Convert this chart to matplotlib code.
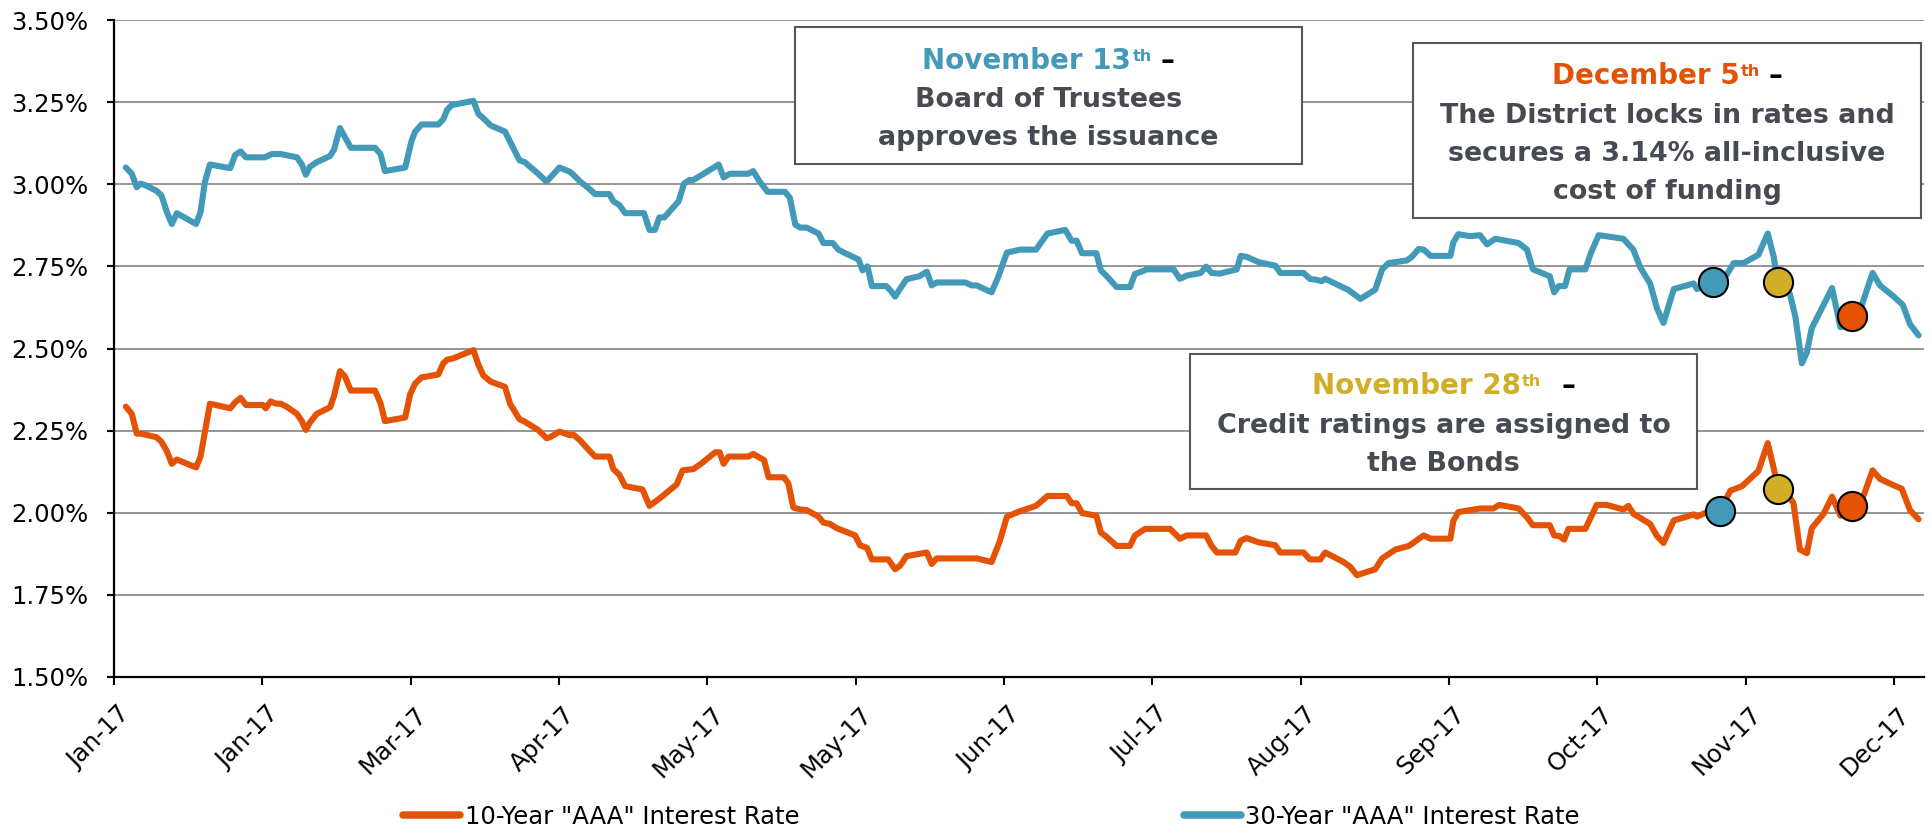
import matplotlib
matplotlib.use("Agg")
import matplotlib.pyplot as plt
import matplotlib.transforms as mtransforms
from matplotlib.patches import Rectangle
from matplotlib.lines import Line2D

# ---------------- data (day offset from 1 Jan 2017, rate in %) ----------------
days_30yr = [
    2.4, 3.6, 4.6, 5.4, 6.6, 8.6, 9.6, 10.7, 11.7, 12.7, 16.6, 17.5, 18.4, 19.4, 23.5,
    24.5, 25.6, 26.7, 30.5, 31.9, 33.7, 37.0, 38.0, 38.8, 39.6, 41.0, 43.7, 44.5, 45.7, 47.9,
    52.8, 53.9, 54.8, 58.9, 60.2, 60.9, 62.2, 65.6, 66.6, 67.4, 68.3, 72.7, 73.7, 74.7, 76.2,
    79.1, 82.0, 83.1, 85.8, 87.5, 90.1, 92.2,
    92.9, 94.3, 96.0, 97.3, 100.2, 101.0, 102.2, 103.4, 107.2, 108.3, 109.4, 110.3, 111.3, 114.2, 115.3,
    116.4, 117.2, 122.3, 123.3, 124.6, 128.3, 129.3, 130.5, 132.2, 135.7, 136.7, 137.8, 138.8, 140.1, 142.5,
    143.5, 145.4, 146.5, 147.9, 150.6, 151.4, 152.4, 153.3, 156.2, 157.1, 158.0, 159.0, 160.3, 162.9, 164.4,
    165.4, 166.4, 172.2, 173.5, 174.5, 177.5, 178.9, 180.6, 183.3,
    184.6, 186.5, 188.8, 192.4, 193.7, 194.7, 195.8, 198.7, 199.6, 200.8, 202.8, 205.5, 206.5, 208.2, 208.9,
    214.3, 215.6, 217.0, 219.8, 220.9, 222.0, 223.7, 227.1, 227.9, 229.1, 231.5, 234.9, 235.9, 240.6, 241.9,
    243.2, 244.3, 245.0, 249.7, 252.1, 255.1, 256.5, 257.8, 261.5, 262.5, 263.9, 264.9, 266.3, 270.3, 270.9,
    271.9, 274.3,
    276.3, 277.7, 279.4, 284.1, 285.8, 287.0, 290.4, 291.3, 292.2, 293.5, 294.4, 297.6, 298.7, 300.3, 305.3,
    307.3, 308.7, 310.7, 312.1, 313.4, 315.5, 318.1, 319.5, 320.2, 323.5, 326.2, 327.6, 329.6, 332.6, 334.5,
    335.7, 336.3, 339.0, 340.1, 341.4, 342.4, 343.4, 347.5, 349.2, 350.5, 353.2, 355.7, 357.2, 359.9, 361.8,
    363.3, 365.0,
]
rate_30yr = [
    3.051, 3.032, 2.991, 3.002, 2.995, 2.980, 2.966, 2.915, 2.879, 2.912, 2.879, 2.915, 3.008, 3.060, 3.049,
    3.089, 3.100, 3.082, 3.082, 3.092, 3.092, 3.082, 3.060, 3.029, 3.053, 3.067, 3.086, 3.105, 3.171, 3.111,
    3.111, 3.092, 3.040, 3.051, 3.133, 3.160, 3.182, 3.182, 3.198, 3.227, 3.241, 3.254, 3.214, 3.201, 3.179,
    3.160, 3.073, 3.067, 3.032, 3.008, 3.051, 3.038,
    3.029, 3.008, 2.988, 2.970, 2.970, 2.948, 2.937, 2.912, 2.912, 2.861, 2.861, 2.899, 2.899, 2.948, 3.002,
    3.013, 3.013, 3.060, 3.021, 3.032, 3.032, 3.040, 3.010, 2.977, 2.977, 2.959, 2.877, 2.868, 2.868, 2.850,
    2.821, 2.821, 2.801, 2.790, 2.771, 2.738, 2.750, 2.690, 2.690, 2.676, 2.658, 2.682, 2.711, 2.720, 2.734,
    2.692, 2.701, 2.701, 2.692, 2.692, 2.671, 2.720, 2.792, 2.801,
    2.801, 2.801, 2.850, 2.861, 2.828, 2.828, 2.790, 2.790, 2.738, 2.720, 2.687, 2.687, 2.727, 2.736, 2.741,
    2.741, 2.712, 2.722, 2.730, 2.749, 2.730, 2.728, 2.741, 2.782, 2.779, 2.763, 2.752, 2.730, 2.730, 2.712,
    2.709, 2.705, 2.712, 2.678, 2.651, 2.679, 2.741, 2.760, 2.768, 2.779, 2.803, 2.801, 2.782, 2.782, 2.823,
    2.848, 2.842,
    2.845, 2.817, 2.834, 2.821, 2.801, 2.741, 2.720, 2.671, 2.690, 2.690, 2.741, 2.741, 2.790, 2.845, 2.834,
    2.801, 2.747, 2.698, 2.622, 2.578, 2.681, 2.692, 2.698, 2.681, 2.701, 2.725, 2.760, 2.760, 2.785, 2.850,
    2.779, 2.720, 2.665, 2.595, 2.455, 2.488, 2.562, 2.684, 2.565, 2.569, 2.618, 2.730, 2.692, 2.659, 2.633,
    2.573, 2.540,
]

days_10yr = [
    2.4, 3.6, 4.6, 5.4, 8.6, 9.6, 10.7, 11.7, 12.7, 16.6, 17.5, 18.4, 19.4, 23.5, 24.5,
    25.6, 26.7, 30.1, 30.7, 31.7, 32.8, 33.7, 34.9, 37.0, 38.0, 38.8, 39.6, 41.0, 43.7, 44.5,
    45.7, 46.7, 47.9, 52.8, 53.9, 54.8, 58.9, 59.9, 60.9, 62.2, 65.6, 66.6, 67.4, 68.6, 72.7,
    73.7, 74.7, 76.2, 79.1, 80.1, 82.0, 83.1, 85.8, 87.5, 88.2, 90.1, 92.2,
    92.9, 94.3, 95.6, 97.3, 100.2, 101.0, 102.2, 103.4, 106.9, 108.3, 109.6, 110.8, 113.8, 115.0, 117.2,
    118.9, 121.6, 122.5, 123.3, 124.3, 128.3, 129.3, 131.5, 132.4, 135.5, 136.4, 137.4, 138.8, 140.1, 142.5,
    143.5, 144.8, 146.2, 149.9, 150.9, 152.3, 153.3, 156.6, 158.0, 159.0, 160.3, 164.4, 165.4, 166.4, 174.5,
    177.5, 179.2, 180.6, 183.3,
    186.5, 188.8, 192.7, 193.7, 194.7, 195.8, 198.7, 199.6, 200.8, 202.8, 205.5, 206.5, 208.6, 213.6, 215.6,
    217.0, 220.9, 222.0, 223.1, 226.8, 227.9, 229.1, 231.5, 234.9, 235.9, 240.6, 241.9, 244.0, 245.0, 248.7,
    250.0, 251.4, 255.1, 256.5, 259.2, 261.9, 264.9, 266.3, 270.3, 270.9, 271.9, 274.3,
    276.3, 279.0, 280.2, 284.1, 285.8, 287.0, 290.4, 291.3, 292.4, 293.3, 294.2, 297.6, 298.7, 299.9, 301.9,
    305.3, 306.3, 307.3, 310.7, 312.1, 313.4, 315.5, 318.1, 319.5, 320.2, 322.2, 324.9, 326.9, 329.3, 332.6,
    334.5, 336.0, 339.7, 341.0, 342.4, 343.4, 345.8, 347.5, 349.2, 351.5, 353.6, 355.7, 357.2, 359.9, 361.6,
    363.3, 365.0,
]
rate_10yr = [
    2.323, 2.301, 2.241, 2.241, 2.230, 2.216, 2.187, 2.149, 2.162, 2.138, 2.171, 2.247, 2.332, 2.318, 2.336,
    2.350, 2.328, 2.328, 2.318, 2.339, 2.332, 2.332, 2.323, 2.301, 2.279, 2.252, 2.274, 2.301, 2.321, 2.355,
    2.431, 2.415, 2.372, 2.372, 2.334, 2.279, 2.290, 2.361, 2.393, 2.412, 2.421, 2.455, 2.466, 2.470, 2.495,
    2.451, 2.418, 2.399, 2.383, 2.332, 2.285, 2.277, 2.252, 2.227, 2.230, 2.247, 2.236,
    2.238, 2.220, 2.198, 2.171, 2.171, 2.133, 2.116, 2.081, 2.071, 2.021, 2.035, 2.049, 2.086, 2.129, 2.133,
    2.151, 2.184, 2.184, 2.149, 2.171, 2.171, 2.179, 2.160, 2.108, 2.108, 2.089, 2.016, 2.010, 2.008, 1.988,
    1.970, 1.966, 1.953, 1.931, 1.901, 1.893, 1.858, 1.858, 1.828, 1.839, 1.868, 1.879, 1.844, 1.861, 1.861,
    1.850, 1.915, 1.988, 2.005,
    2.021, 2.051, 2.051, 2.029, 2.029, 1.999, 1.991, 1.940, 1.926, 1.899, 1.899, 1.931, 1.951, 1.951, 1.921,
    1.931, 1.931, 1.899, 1.879, 1.879, 1.915, 1.923, 1.910, 1.901, 1.879, 1.879, 1.858, 1.858, 1.879, 1.850,
    1.836, 1.810, 1.828, 1.861, 1.888, 1.899, 1.931, 1.921, 1.921, 1.975, 2.002, 2.008,
    2.013, 2.013, 2.024, 2.013, 1.986, 1.962, 1.962, 1.931, 1.929, 1.918, 1.951, 1.951, 1.986, 2.024, 2.024,
    2.010, 2.021, 1.997, 1.966, 1.929, 1.908, 1.977, 1.988, 1.995, 1.988, 2.002, 2.005, 2.067, 2.081, 2.127,
    2.212, 2.116, 2.029, 1.888, 1.877, 1.953, 1.997, 2.049, 1.991, 2.018, 2.040, 2.129, 2.103, 2.084, 2.073,
    2.007, 1.980,
]

event_days_30yr = [323.5, 336.6, 351.5]
event_rate_30yr = [2.702, 2.702, 2.598]
event_days_10yr = [324.9, 336.6, 351.5]
event_rate_10yr = [2.005, 2.073, 2.021]

xtick_days = [0, 30, 60, 90, 120, 150, 180, 210, 240, 270, 300, 330, 360]
xtick_labels = ["Jan-17", "Jan-17", "Mar-17", "Apr-17", "May-17", "May-17", "Jun-17",
                "Jul-17", "Aug-17", "Sep-17", "Oct-17", "Nov-17", "Dec-17"]
ytick_values = [1.50, 1.75, 2.00, 2.25, 2.50, 2.75, 3.00, 3.25, 3.50]
ytick_labels = ["1.50%", "1.75%", "2.00%", "2.25%", "2.50%", "2.75%", "3.00%", "3.25%", "3.50%"]
series_labels = ['10-Year "AAA" Interest Rate', '30-Year "AAA" Interest Rate']

# ---------------- style ----------------
BLUE = "#4299B8"
ORANGE = "#E35205"
GOLD = "#D2AE27"
TEXT = "#464B53"
EDGE = "#53585E"
event_colors = [BLUE, GOLD, ORANGE]
LW = 4.4

W, H = 1933, 833
fig = plt.figure(figsize=(W / 100, H / 100), dpi=100)
ax = fig.add_axes([114 / W, 1 - 677 / H, (1924 - 114) / W, (677 - 20) / H])

ax.plot(days_10yr, rate_10yr, color=ORANGE, lw=LW, solid_joinstyle="round",
        solid_capstyle="round", zorder=3)
ax.plot(days_30yr, rate_30yr, color=BLUE, lw=LW, solid_joinstyle="round",
        solid_capstyle="round", zorder=3)
for d, r, c in zip(event_days_30yr, event_rate_30yr, event_colors):
    ax.plot([d], [r], marker="o", ms=21, mfc=c, mec="black", mew=1.5, zorder=5, clip_on=False)
for d, r, c in zip(event_days_10yr, event_rate_10yr, event_colors):
    ax.plot([d], [r], marker="o", ms=21, mfc=c, mec="black", mew=1.5, zorder=5, clip_on=False)

ax.set_xlim(0, 366.1)
ax.set_ylim(1.5, 3.5)
ax.set_yticks(ytick_values)
ax.set_yticklabels(ytick_labels)
ax.set_xticks(xtick_days)
ax.set_xticklabels(xtick_labels, rotation=45, ha="right", va="top", rotation_mode="anchor")
ax.tick_params(axis="y", direction="out", length=5, width=1.5, pad=13.5, labelsize=17.5, colors="black")
ax.tick_params(axis="x", direction="out", length=6, width=1.5, pad=12, labelsize=17.5, colors="black")
offset = mtransforms.ScaledTranslation(0.04, 0, fig.dpi_scale_trans)
for lab in ax.get_xticklabels():
    lab.set_transform(lab.get_transform() + offset)

for s in ["top", "right"]:
    ax.spines[s].set_visible(False)
for s in ["left", "bottom"]:
    ax.spines[s].set_linewidth(1.6)
    ax.spines[s].set_color("black")
    ax.spines[s].set_zorder(4)
ax.yaxis.grid(True, color="#8c8c8c", lw=1.3)
ax.set_axisbelow(True)

# ---------------- legend ----------------
handles = [Line2D([], [], color=ORANGE, lw=5.4, solid_capstyle="round"),
           Line2D([], [], color=BLUE, lw=5.4, solid_capstyle="round")]
fig.legend(handles, series_labels, loc="center", bbox_to_anchor=(991.5 / W, 1 - 817 / H),
           ncol=2, frameon=False, fontsize=17.5, handlelength=2.35, handletextpad=0.2,
           columnspacing=15.8, borderpad=0, borderaxespad=0)

# ---------------- annotation boxes ----------------
renderer = fig.canvas.get_renderer()
ident = mtransforms.IdentityTransform()


def box(x0, y0, x1, y1):
    rect = Rectangle((x0 / W, 1 - y1 / H), (x1 - x0) / W, (y1 - y0) / H,
                     transform=fig.transFigure, fc="white", ec=EDGE, lw=1.5, zorder=5)
    fig.add_artist(rect)


def rich_line(cx, base, parts):
    items = []
    total = 0.0
    for text, color, size, rise, gap in parts:
        t = fig.text(0, 0, text, color=color, fontsize=size, fontweight="bold",
                     ha="left", va="baseline", transform=ident, zorder=6)
        w = t.get_window_extent(renderer).width
        total += gap
        items.append((t, total, rise))
        total += w
    x0 = cx - total / 2
    for t, off, rise in items:
        t.set_position((x0 + off, H - base + rise))


def body_line(cx, base, text):
    fig.text(cx, H - base, text, color=TEXT, fontsize=19.4, fontweight="bold",
             ha="center", va="baseline", transform=ident, zorder=6)


TS, SS, RISE = 20, 11.5, 8.0

# November 13
box(795, 27, 1302, 164)
cx = (795 + 1302) / 2
rich_line(cx, 69, [("November 13", BLUE, TS, 0, 0), ("th", BLUE, SS, RISE, 1), ("–", "black", TS, 0, 9)])
body_line(cx, 107, "Board of Trustees")
body_line(cx, 145, "approves the issuance")

# December 5
box(1413, 43, 1921, 218)
cx = (1413 + 1921) / 2
rich_line(cx, 84, [("December 5", ORANGE, TS, 0, 0), ("th", ORANGE, SS, RISE, 1), ("–", "black", TS, 0, 9)])
body_line(cx, 123, "The District locks in rates and")
body_line(cx, 161, "secures a 3.14% all-inclusive")
body_line(cx, 199, "cost of funding")

# November 28
box(1190, 354, 1697, 489)
cx = (1190 + 1697) / 2
rich_line(cx, 394, [("November 28", GOLD, TS, 0, 0), ("th", GOLD, SS, RISE, 1), ("–", "black", TS, 0, 20)])
body_line(cx, 433, "Credit ratings are assigned to")
body_line(cx, 471, "the Bonds")

fig.savefig("out.png", dpi=100)
